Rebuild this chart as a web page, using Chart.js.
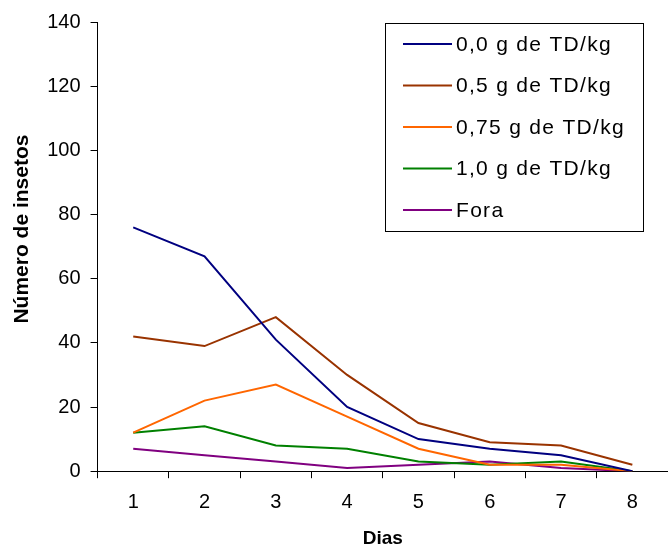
<!DOCTYPE html>
<html>
<head>
<meta charset="utf-8">
<script src="https://cdn.jsdelivr.net/npm/chart.js@4"></script>
<style>
  html, body { margin: 0; padding: 0; background: #fff; }
  #wrap { width: 668px; height: 550px; }
</style>
</head>
<body>
<div id="wrap"><canvas id="chart" width="668" height="550"></canvas></div>
<script>
// dados
const dias = ['1', '2', '3', '4', '5', '6', '7', '8'];
const dose00 = [76, 67, 41, 20, 10, 7, 5, 0];
const dose05 = [42, 39, 48, 30, 15, 9, 8, 2];
const dose075 = [12, 22, 27, 17, 7, 2, 2, 0];
const dose10 = [12, 14, 8, 7, 3, 2, 3, 0];
const fora = [7, 5, 3, 1, 2, 3, 1, 0];
const nomes = ['0,0 g de TD/kg', '0,5 g de TD/kg', '0,75 g de TD/kg', '1,0 g de TD/kg', 'Fora'];
const cores = ['#000080', '#993300', '#FF6600', '#008000', '#800080'];

const series = [dose00, dose05, dose075, dose10, fora];
const fonte = 'Arial, "Liberation Sans", sans-serif';

// legenda desenhada dentro da área do gráfico
const boxLegend = {
    id: 'boxLegend',
    afterDraw(chart) {
        const ctx = chart.ctx;
        const x = 385, y = 23, w = 258, h = 208;
        ctx.save();
        ctx.fillStyle = '#fff';
        ctx.fillRect(x, y, w, h);
        ctx.strokeStyle = '#000';
        ctx.lineWidth = 1;
        ctx.strokeRect(x + 0.5, y + 0.5, w, h);
        ctx.font = '21px ' + fonte;
        ctx.letterSpacing = '1.3px';
        ctx.textBaseline = 'middle';
        chart.data.datasets.forEach((ds, i) => {
            const cy = 44 + i * 41.5;
            ctx.strokeStyle = ds.borderColor;
            ctx.lineWidth = 2;
            ctx.beginPath();
            ctx.moveTo(403, cy);
            ctx.lineTo(452, cy);
            ctx.stroke();
            ctx.fillStyle = '#000';
            ctx.fillText(ds.label, 456, cy + 1);
        });
        ctx.restore();
    }
};

new Chart(document.getElementById('chart'), {
    type: 'line',
    data: {
        labels: dias,
        datasets: series.map((d, i) => ({
            label: nomes[i],
            data: d,
            borderColor: cores[i],
            backgroundColor: cores[i],
            borderWidth: 2,
            pointRadius: 0,
            tension: 0
        }))
    },
    options: {
        responsive: false,
        animation: false,
        layout: { padding: { left: 0, top: 22, right: 0, bottom: 0 } },
        plugins: {
            legend: { display: false },
            tooltip: { enabled: false }
        },
        scales: {
            x: {
                type: 'category',
                offset: true,
                grid: { offset: true, drawOnChartArea: false, drawTicks: true, tickLength: 7, color: '#000' },
                border: { display: true, color: '#000', width: 1 },
                ticks: { color: '#000', font: { family: fonte, size: 20 }, padding: 12 },
                title: { display: true, text: 'Dias', color: '#000', font: { family: fonte, size: 19, weight: 'bold' }, padding: { top: 1, bottom: 0 } }
            },
            y: {
                min: 0,
                max: 140,
                ticks: { stepSize: 20, color: '#000', font: { family: fonte, size: 20 }, padding: 10 },
                grid: { drawOnChartArea: false, drawTicks: true, tickLength: 7, color: '#000' },
                border: { display: true, color: '#000', width: 1 },
                title: { display: true, text: '\u00a0\u00a0\u00a0\u00a0\u00a0\u00a0Número de insetos', color: '#000', font: { family: fonte, size: 21, weight: 'bold' }, padding: { top: 10, bottom: 2 } }
            }
        }
    },
    plugins: [boxLegend]
});
</script>
</body>
</html>
